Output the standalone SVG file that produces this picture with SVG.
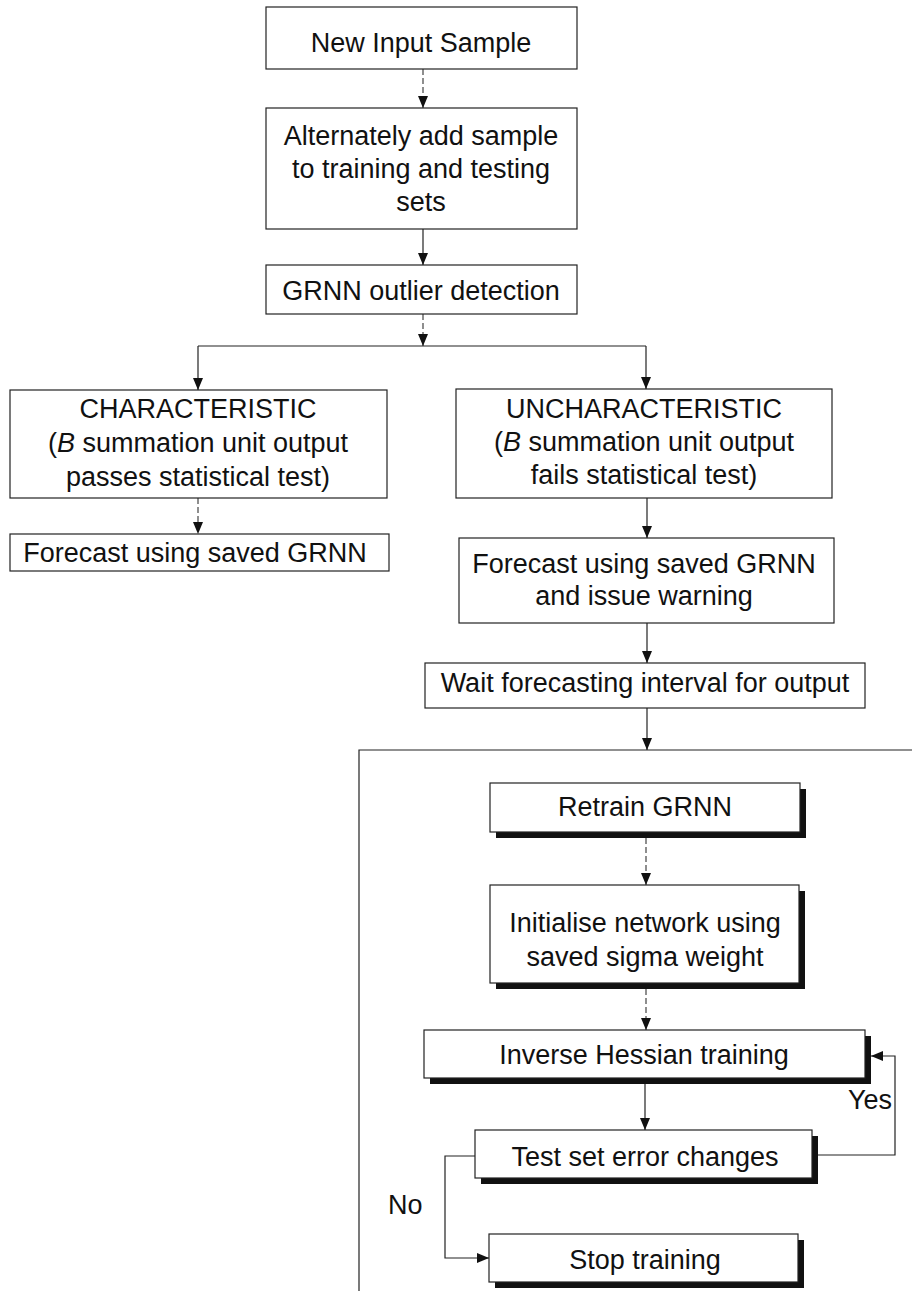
<svg xmlns="http://www.w3.org/2000/svg" width="912" height="1291" viewBox="0 0 912 1291">
<defs>
<style>
.box{fill:#fff;stroke:#222;stroke-width:1.2}
.shadow{fill:#111}
.t{font-family:"Liberation Sans",Arial,sans-serif;font-size:27px;fill:#111;text-anchor:middle}
.lbl{font-family:"Liberation Sans",Arial,sans-serif;font-size:27px;fill:#111}
.c{fill:none;stroke:#222;stroke-width:1.2}
.d{fill:none;stroke:#444;stroke-width:1.2;stroke-dasharray:6 3}
</style>
<marker id="ah" viewBox="0 0 12 10" markerWidth="12" markerHeight="10" refX="12" refY="5" orient="auto" markerUnits="userSpaceOnUse">
<path d="M0,0 L12,5 L0,10 z" fill="#111"/>
</marker>
</defs>
<rect width="912" height="1291" fill="#fff"/>

<g id="connectors">
<path class="d" d="M423,69 V108" marker-end="url(#ah)"/>
<path class="c" d="M423,229 V265" marker-end="url(#ah)"/>
<path class="d" d="M423,314 V346" marker-end="url(#ah)"/>
<path class="c" d="M198,346 H646"/>
<path class="c" d="M198,346 V390" marker-end="url(#ah)"/>
<path class="c" d="M646,346 V389" marker-end="url(#ah)"/>
<path class="d" d="M198,498 V534" marker-end="url(#ah)"/>
<path class="c" d="M647,498 V538" marker-end="url(#ah)"/>
<path class="c" d="M647,623 V663" marker-end="url(#ah)"/>
<path class="c" d="M647,708 V750" marker-end="url(#ah)"/>
<path class="c" d="M912,750 H359 V1291"/>
<path class="d" d="M646,838 V885" marker-end="url(#ah)"/>
<path class="d" d="M646,989 V1030" marker-end="url(#ah)"/>
<path class="c" d="M645,1084 V1130" marker-end="url(#ah)"/>
<path class="c" d="M818,1155 H895 V1056 H871" marker-end="url(#ah)"/>
<path class="c" d="M475,1156 H445 V1258 H489" marker-end="url(#ah)"/>
</g>

<g id="n1">
<rect class="box" x="266" y="7" width="311" height="62"/>
<text class="t" x="421" y="52">New Input Sample</text>
</g>
<g id="n2">
<rect class="box" x="266" y="108" width="311" height="121"/>
<text class="t" x="421" y="145">Alternately add sample</text>
<text class="t" x="421" y="178">to training and testing</text>
<text class="t" x="421" y="211">sets</text>
</g>
<g id="n3">
<rect class="box" x="266" y="265" width="311" height="49"/>
<text class="t" x="421" y="300">GRNN outlier detection</text>
</g>
<g id="n4">
<rect class="box" x="10" y="390" width="377" height="108"/>
<text class="t" x="198" y="418">CHARACTERISTIC</text>
<text class="t" x="198" y="452">(<tspan font-style="italic">B</tspan> summation unit output</text>
<text class="t" x="198" y="486">passes statistical test)</text>
</g>
<g id="n5">
<rect class="box" x="456" y="389" width="376" height="109"/>
<text class="t" x="644" y="418">UNCHARACTERISTIC</text>
<text class="t" x="644" y="451">(<tspan font-style="italic">B</tspan> summation unit output</text>
<text class="t" x="644" y="484">fails statistical test)</text>
</g>
<g id="n6">
<rect class="box" x="10" y="534" width="379" height="37"/>
<text class="t" x="195" y="562">Forecast using saved GRNN</text>
</g>
<g id="n7">
<rect class="box" x="459" y="538" width="375" height="85"/>
<text class="t" x="644" y="573">Forecast using saved GRNN</text>
<text class="t" x="644" y="605">and issue warning</text>
</g>
<g id="n8">
<rect class="box" x="425" y="663" width="440" height="45"/>
<text class="t" x="645" y="692">Wait forecasting interval for output</text>
</g>
<g id="n9">
<rect class="shadow" x="496" y="789" width="310" height="49"/>
<rect class="box" x="490" y="783" width="310" height="49"/>
<text class="t" x="645" y="816">Retrain GRNN</text>
</g>
<g id="n10">
<rect class="shadow" x="496" y="891" width="309" height="98"/>
<rect class="box" x="490" y="885" width="309" height="98"/>
<text class="t" x="645" y="932">Initialise network using</text>
<text class="t" x="645" y="966">saved sigma weight</text>
</g>
<g id="n11">
<rect class="shadow" x="430" y="1036" width="441" height="48"/>
<rect class="box" x="424" y="1030" width="441" height="48"/>
<text class="t" x="644" y="1064">Inverse Hessian training</text>
</g>
<g id="n12">
<rect class="shadow" x="481" y="1136" width="337" height="48"/>
<rect class="box" x="475" y="1130" width="337" height="48"/>
<text class="t" x="645" y="1166">Test set error changes</text>
</g>
<g id="n13">
<rect class="shadow" x="495" y="1240" width="309" height="48"/>
<rect class="box" x="489" y="1234" width="309" height="48"/>
<text class="t" x="645" y="1269">Stop training</text>
</g>
<g id="labels">
<text class="lbl" x="892" y="1109" text-anchor="end">Yes</text>
<text class="lbl" x="388" y="1214">No</text>
</g>
</svg>
